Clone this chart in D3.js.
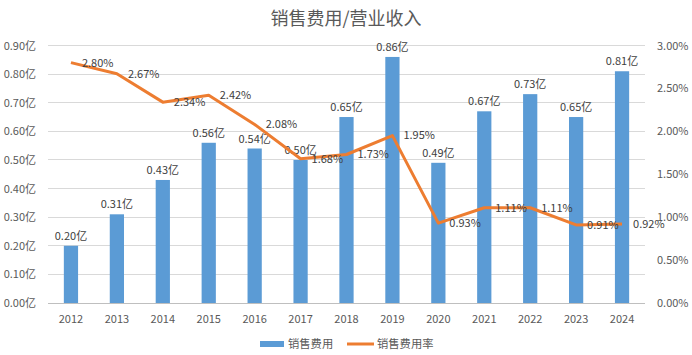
<!DOCTYPE html>
<html><head><meta charset="utf-8">
<script src="https://cdn.jsdelivr.net/npm/d3@7"></script>
<style>body{margin:0;background:#fff}svg{display:block}text{font-family:"Noto Sans CJK SC","Noto Sans",sans-serif}</style>
</head><body>
<svg id="c" width="692" height="355"></svg>
<script>
const years = ["2012","2013","2014","2015","2016","2017","2018","2019","2020","2021","2022","2023","2024"];
const expense = [0.20,0.31,0.43,0.56,0.54,0.50,0.65,0.86,0.49,0.67,0.73,0.65,0.81];
const ratio = [2.80,2.67,2.34,2.42,2.08,1.68,1.73,1.95,0.93,1.11,1.11,0.91,0.92];
const leftTicks = [0,0.1,0.2,0.3,0.4,0.5,0.6,0.7,0.8,0.9];
const rightTicks = [0,0.5,1.0,1.5,2.0,2.5,3.0];
const title = "销售费用/营业收入";
const seriesNames = ["销售费用","销售费用率"];

const svg = d3.select("#c");
const L = 48, R = 645, T = 45.5, B = 303;
const x = d3.scaleBand().domain(years).range([L,R]).paddingInner(0.69).paddingOuter(0.345);
const yl = d3.scaleLinear().domain([0,0.9]).range([B,T]);
const yr = d3.scaleLinear().domain([0,3]).range([B,T]);
const txt = "#595959";

svg.append("text").attr("x",346).attr("y",25).attr("text-anchor","middle")
  .attr("font-size",18).attr("fill",txt).text(title);

// grid
svg.append("g").selectAll("line").data(leftTicks).join("line")
  .attr("x1",L).attr("x2",R).attr("y1",d=>yl(d)).attr("y2",d=>yl(d))
  .attr("stroke",d=>d===0?"#BFBFBF":"#D9D9D9").attr("stroke-width",1).attr("shape-rendering","crispEdges");

// left axis labels
const la = d3.axisLeft(yl).tickValues(leftTicks).tickSize(0).tickFormat(d=>d3.format(".2f")(d)+"亿");
svg.append("g").attr("transform",`translate(${L-9},0)`).call(la)
  .call(g=>g.select(".domain").remove())
  .selectAll("text").attr("font-size",11).attr("fill",txt).style("font-family",'"Noto Sans CJK SC"');

// right axis labels
const ra = d3.axisRight(yr).tickValues(rightTicks).tickSize(0).tickFormat(d=>d3.format(".2f")(d)+"%");
svg.append("g").attr("transform",`translate(${R+9},0)`).call(ra)
  .call(g=>g.select(".domain").remove())
  .selectAll("text").attr("font-size",11).attr("fill",txt);

// x axis
const xa = d3.axisBottom(x).tickSize(0);
svg.append("g").attr("transform",`translate(0,${B+9})`).call(xa)
  .call(g=>g.select(".domain").remove())
  .selectAll("text").attr("font-size",11).attr("fill",txt);

// bars
svg.append("g").selectAll("rect").data(years).join("rect")
  .attr("x",d=>x(d)).attr("width",x.bandwidth())
  .attr("y",(d,i)=>yl(expense[i])).attr("height",(d,i)=>B-yl(expense[i]))
  .attr("fill","#5B9BD5");

svg.append("g").selectAll("text").data(years).join("text")
  .attr("x",d=>x(d)+x.bandwidth()/2).attr("y",(d,i)=>yl(expense[i])-6)
  .attr("text-anchor","middle").attr("font-size",11).attr("fill","#404040")
  .text((d,i)=>d3.format(".2f")(expense[i])+"亿");

// line
const cx = d=>x(d)+x.bandwidth()/2;
const line = d3.line().x((d,i)=>cx(years[i])).y(d=>yr(d));
svg.append("path").datum(ratio).attr("d",line).attr("fill","none")
  .attr("stroke","#ED7D31").attr("stroke-width",3).attr("stroke-linejoin","round");

svg.append("g").selectAll("text").data(ratio).join("text")
  .attr("x",(d,i)=>cx(years[i])+11).attr("y",d=>yr(d)).attr("dy","0.35em")
  .attr("font-size",11).attr("fill","#404040")
  .text(d=>d3.format(".2f")(d)+"%");

// legend
const lg = svg.append("g");
lg.append("rect").attr("x",260).attr("y",341).attr("width",24).attr("height",6).attr("fill","#5B9BD5");
lg.append("text").attr("x",288).attr("y",347.5).attr("font-size",11.3).attr("fill",txt).text(seriesNames[0]);
lg.append("line").attr("x1",347).attr("x2",374).attr("y1",344).attr("y2",344).attr("stroke","#ED7D31").attr("stroke-width",3);
lg.append("text").attr("x",377).attr("y",347.5).attr("font-size",11.3).attr("fill",txt).text(seriesNames[1]);
</script>
</body></html>
